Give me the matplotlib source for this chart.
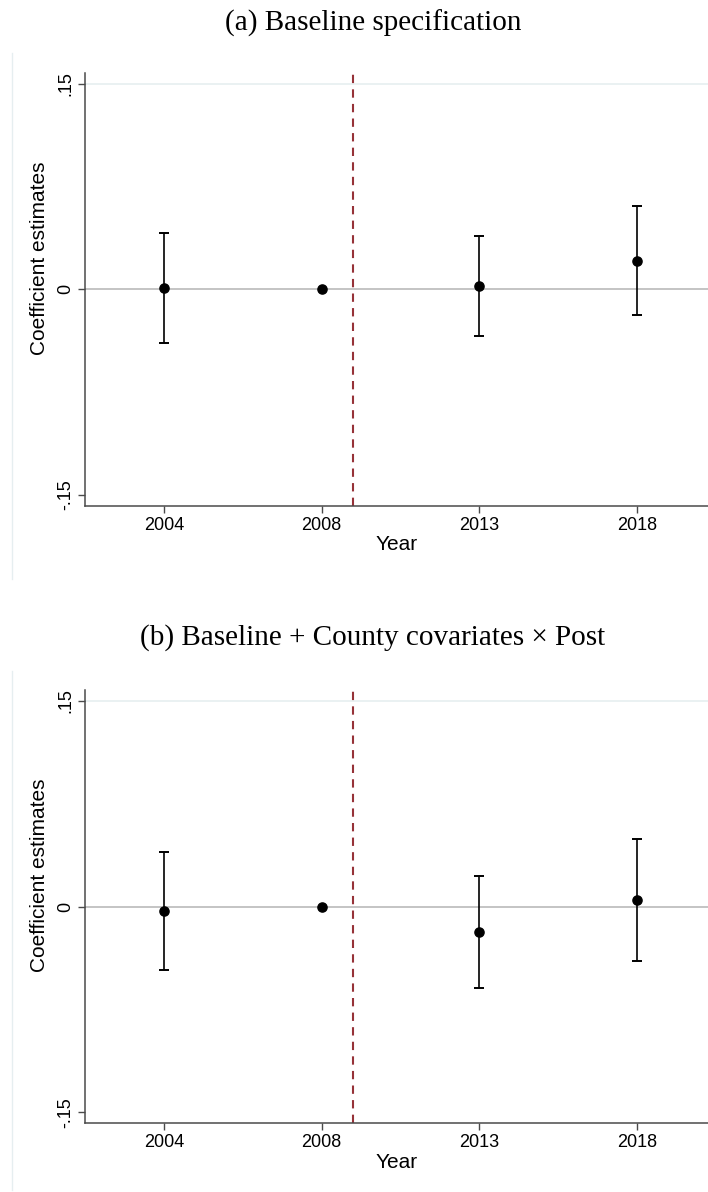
import matplotlib
matplotlib.use("Agg")
import matplotlib.pyplot as plt
import numpy as np

plt.rcParams['font.family'] = ['Liberation Sans', 'DejaVu Sans']

# event-study estimates, 2008 is the omitted reference year
years = ['2004', '2008', '2013', '2018']
coef_a = [0.001, 0.0, 0.0025, 0.021]
lower_a = [-0.039, 0.0, -0.034, -0.019]
upper_a = [0.041, 0.0, 0.039, 0.061]

coef_b = [-0.003, 0.0, -0.0187, 0.005]
lower_b = [-0.0465, 0.0, -0.0593, -0.040]
upper_b = [0.040, 0.0, 0.022, 0.0495]

titles = ['(a) Baseline specification',
          '(b) Baseline + County covariates \u00d7 Post']
ref_year = '2008'
treat_line = 2.2  # policy change, between 2008 and 2013

W, H = 708, 1192
fig = plt.figure(figsize=(W / 100, H / 100), dpi=100)

AXIS_COLOR = '#4a4a4a'
DASH_COLOR = '#963238'


def px_box(left, top, right, bottom):
    return [left / W, 1 - bottom / H, (right - left) / W, (bottom - top) / H]


def draw_panel(ax, coef, lower, upper):
    x = np.arange(1, len(years) + 1)
    coef = np.array(coef)
    lower = np.array(lower)
    upper = np.array(upper)
    has_ci = np.array([y != ref_year for y in years])

    ax.axhline(0.15, color='#e8f0f1', lw=1.3, zorder=0)
    ax.axhline(0, color='#c4c4c4', lw=1.4, zorder=1)
    ax.axvline(treat_line, color=DASH_COLOR, lw=1.5, ls=(0, (4, 3)), zorder=2)

    ax.errorbar(x[has_ci], coef[has_ci],
                yerr=[coef[has_ci] - lower[has_ci], upper[has_ci] - coef[has_ci]],
                fmt='none', ecolor='black', elinewidth=1.2, capsize=3.8,
                capthick=1.4, zorder=3)
    ax.plot(x, coef, 'o', color='black', ms=6.6, zorder=4)

    ax.set_xlim(0.5, 4.45)
    ax.set_ylim(-0.158, 0.158)
    ax.set_xticks(x)
    ax.set_xticklabels(years)
    ax.set_yticks([-0.15, 0, 0.15])
    ax.set_yticklabels(['-.15', '0', '.15'], rotation=90, va='center')
    ax.set_xlabel('Year', fontsize=15, labelpad=1)
    ax.set_ylabel('Coefficient estimates', fontsize=15)
    ax.yaxis.set_label_coords(-0.057, 0.572)

    for side in ['top', 'right']:
        ax.spines[side].set_visible(False)
    for side in ['left', 'bottom']:
        ax.spines[side].set_color(AXIS_COLOR)
        ax.spines[side].set_linewidth(1.1)
    ax.tick_params(axis='both', colors=AXIS_COLOR, labelcolor='black',
                   labelsize=13, length=5, width=1.0, pad=3)


ax_a = fig.add_axes(px_box(85, 72.7, 708, 506))
draw_panel(ax_a, coef_a, lower_a, upper_a)
ax_b = fig.add_axes(px_box(85, 690, 708, 1123.3))
draw_panel(ax_b, coef_b, lower_b, upper_b)

# titles above each panel
fig.text(373 / W, 1 - 31 / H, titles[0], family='Liberation Serif',
         fontsize=21, ha='center', va='baseline')
fig.text(373 / W, 1 - 645 / H, titles[1], family='Liberation Serif',
         fontsize=21, ha='center', va='baseline')

# faint outline of each graph region
for top, bottom in [(53, 579), (671, 1190)]:
    fig.add_artist(plt.Line2D([11.5 / W, 11.5 / W], [1 - top / H, 1 - bottom / H],
                              color='#e6eef0', lw=1.0))

fig.savefig('out.png', dpi=100)
